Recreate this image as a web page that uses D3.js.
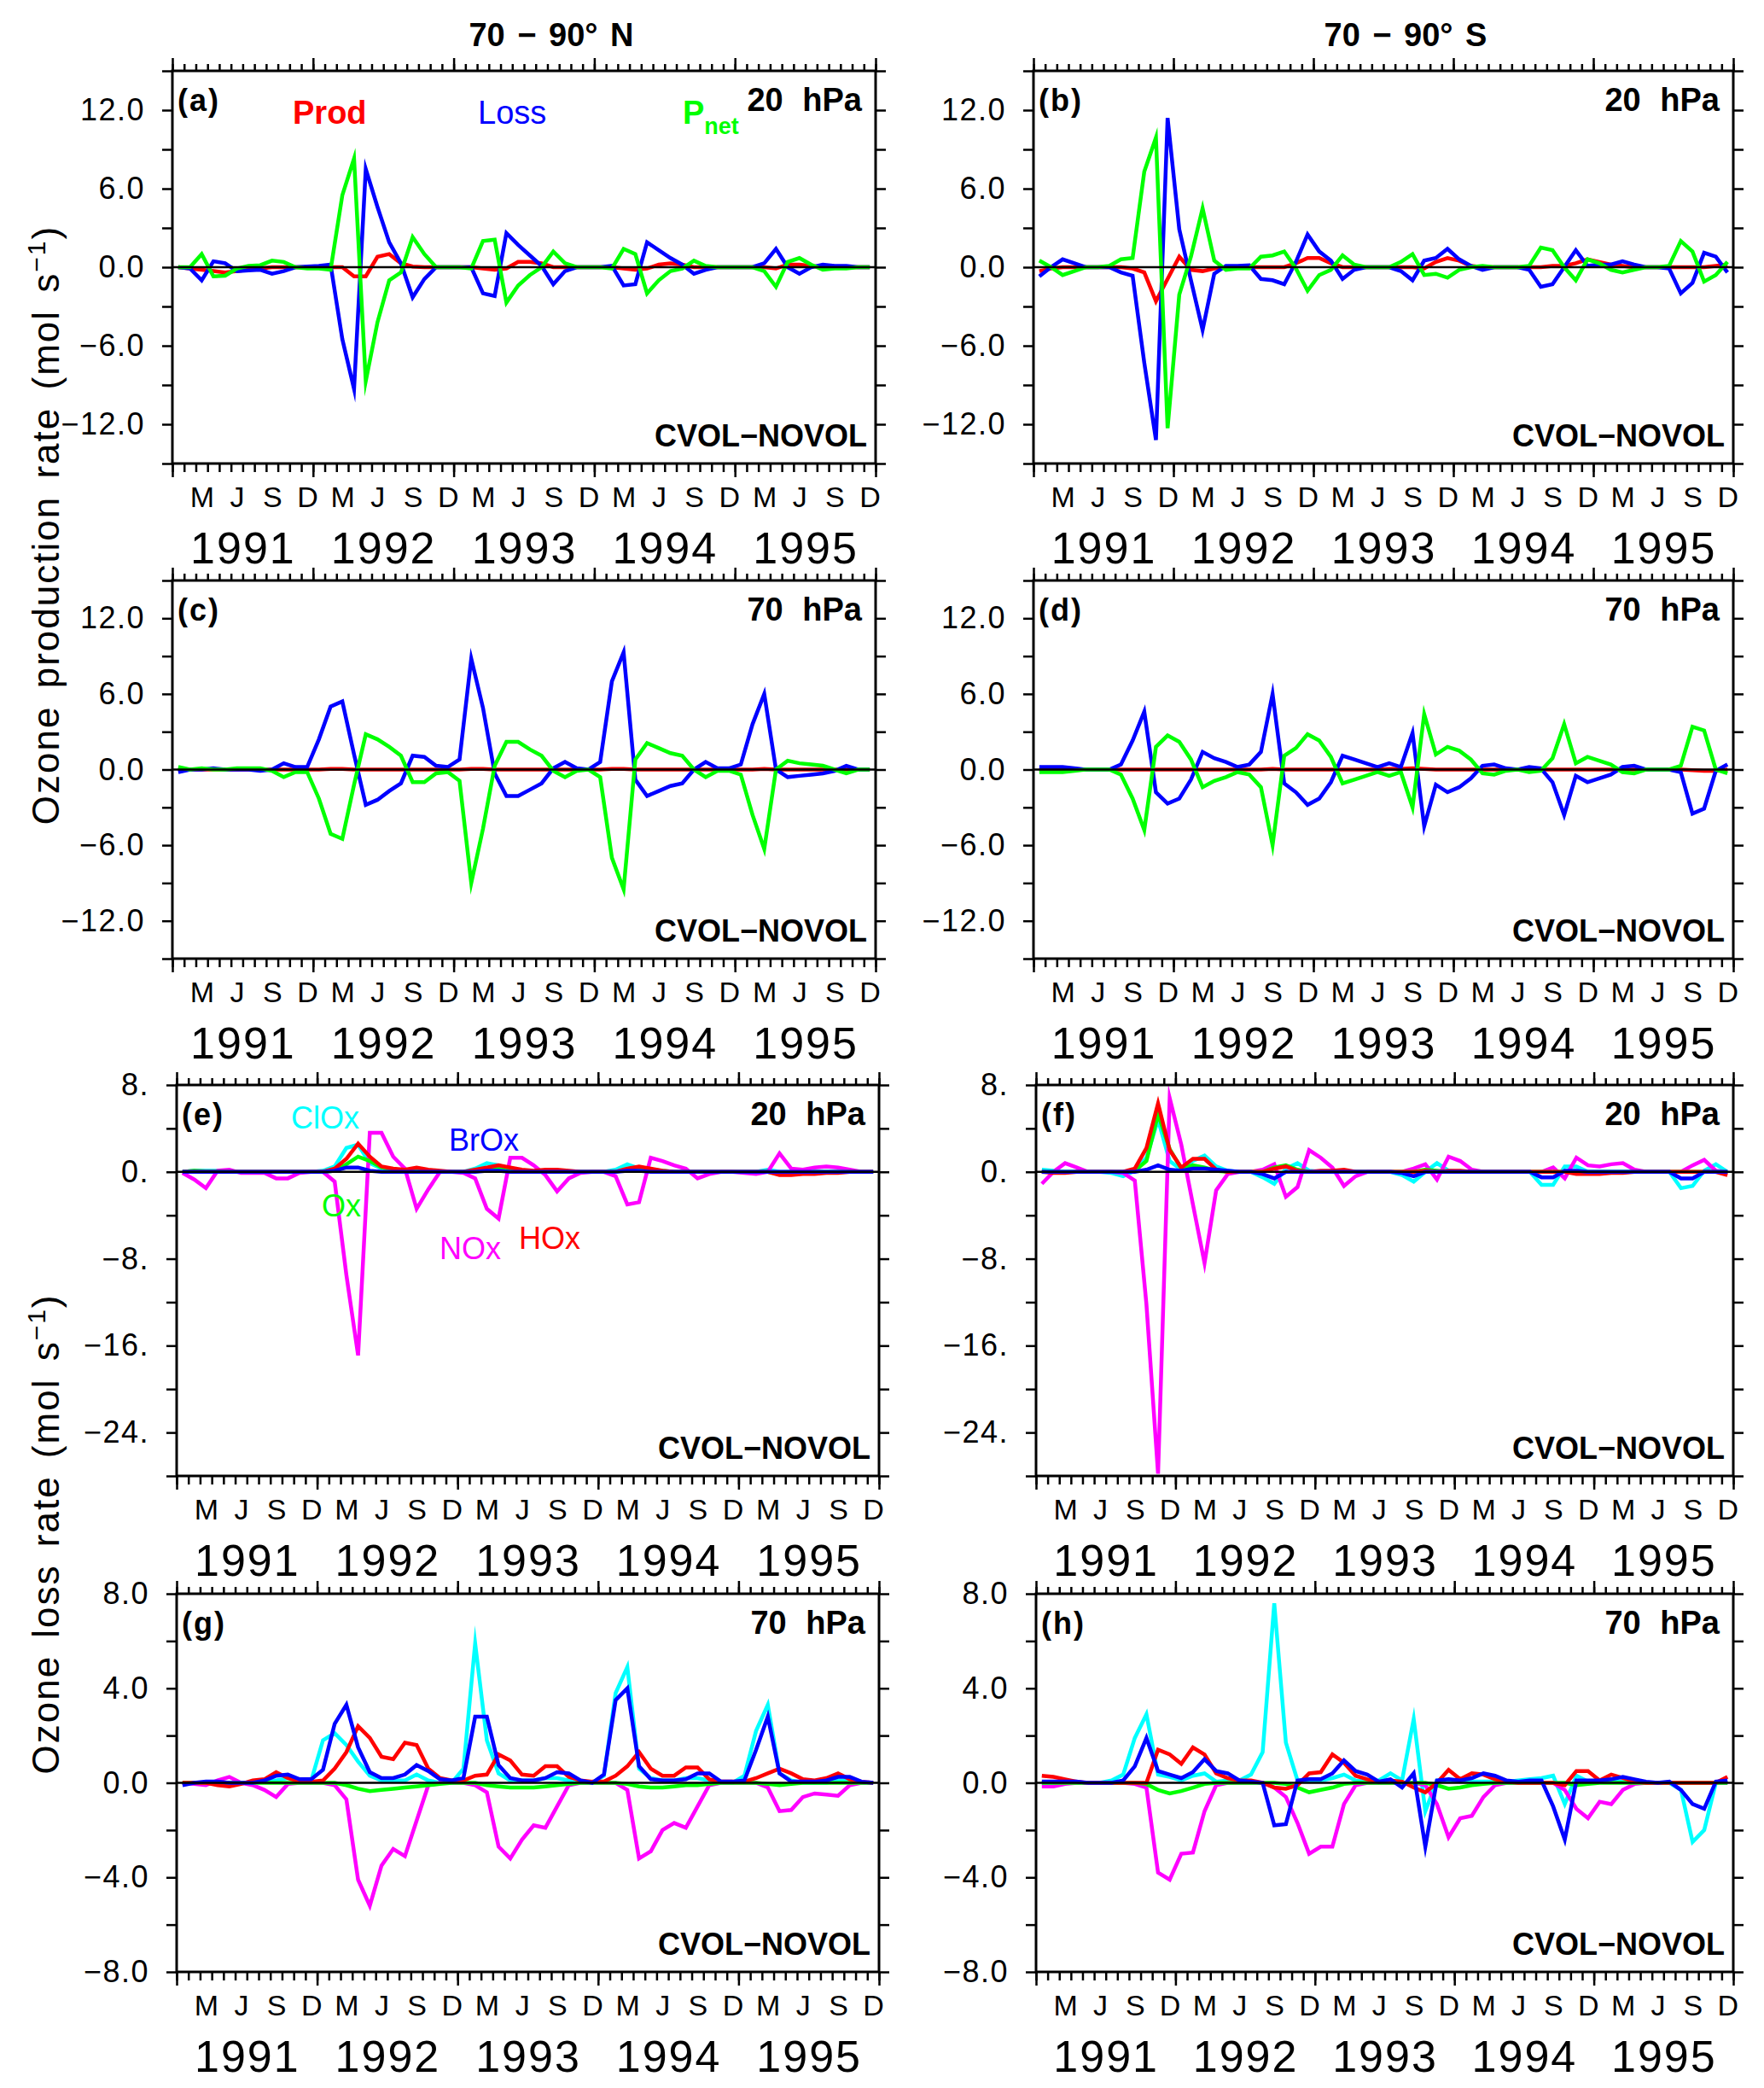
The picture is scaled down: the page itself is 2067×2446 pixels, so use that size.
<!DOCTYPE html>
<html lang="en">
<head>
<meta charset="UTF-8">
<title>ozone production and loss rates</title>
<script src="https://d3js.org/d3.v7.min.js"></script>
<style>
  body { margin: 0; background: #fff; }
  svg { display: block; }
</style>
</head>
<body>
<svg id="fig" width="2067" height="2446"></svg>
<script>
// monthly values, Jan 1991 .. Dec 1995, CVOL minus NOVOL (mol s-1)
const years = ["1991", "1992", "1993", "1994", "1995"];
const monthLetters = ["M", "J", "S", "D"];
const monthSlots = [2, 5, 8, 11];

// (a) 70-90N, 20 hPa
const prodA = [0,-0.1,-0.2,-0.3,-0.4,-0.3,-0.2,-0.1,0,0,0,0,
  0,0,0,-0.7,-0.7,0.8,1.0,0.3,0.05,0,0,0,
  0,0,-0.1,-0.2,-0.1,0.4,0.4,0.3,0,0,0,0,
  0,0,-0.1,-0.2,-0.1,0.2,0.3,0.2,0,0,0,0,
  0,0,0,-0.1,0.2,0.2,0.1,0,0,0,0,0];
const lossA = [0,-0.1,-1.0,0.45,0.3,-0.3,-0.25,-0.2,-0.5,-0.3,0,0.05,
  0.1,0.2,-5.5,-9.3,7.5,4.6,1.9,0.3,-2.3,-0.9,0,0,
  0,0,-2.0,-2.2,2.6,1.7,0.9,0.1,-1.3,-0.3,0,0,
  0,0.1,-1.4,-1.3,1.9,1.3,0.7,0.2,-0.5,-0.2,0,0,
  0,0,0.3,1.4,0,-0.5,0,0.2,0.1,0.1,0,0];
const pnetA = [0,0,1.0,-0.7,-0.65,-0.1,0.1,0.15,0.5,0.4,0,-0.1,
  -0.1,-0.2,5.5,8.3,-8.7,-4.2,-1.0,-0.4,2.3,1.0,0,0,
  0,-0.1,2.0,2.1,-2.7,-1.4,-0.6,0,1.2,0.3,0,0,
  0,-0.1,1.4,1.0,-2.0,-1.0,-0.3,-0.1,0.5,0.1,0,0,
  0,0,-0.3,-1.5,0.4,0.7,0.2,-0.2,-0.1,-0.1,0,0];

// (b) 70-90S, 20 hPa
const prodB = [-0.3,-0.1,0,0,0,0,0,0,-0.1,-0.4,-2.6,-0.9,
  0.8,-0.2,-0.3,-0.1,0,0,0,0,0,0,0.3,0.7,
  0.7,0.3,0,0,0,0,0,0,0,-0.1,0.4,0.7,
  0.5,0.1,0,0,0,0,0,0,0.1,0.1,0.3,0.6,
  0.4,0.2,0.1,0,0,0,0,0,0,0,0.1,0.2];
const lossB = [-0.7,0,0.6,0.3,0,0,0,-0.4,-0.65,-7.3,-13.2,11.4,
  2.9,-1.0,-4.8,-0.5,0.1,0.1,0.15,-0.9,-1.0,-1.3,0.4,2.5,
  1.2,0.5,-0.9,-0.2,0,0,0,-0.3,-1.0,0.5,0.7,1.4,
  0.6,0.1,-0.2,0,0,0,-0.2,-1.5,-1.3,0,1.3,0.1,
  0.2,0.2,0.45,0.2,0,0,-0.1,-2.0,-1.2,1.1,0.8,-0.4];
const pnetB = [0.5,0,-0.6,-0.3,0,0,0.1,0.6,0.7,7.3,9.9,-12.3,
  -2.1,0.8,4.5,0.5,-0.2,-0.1,-0.1,0.8,0.9,1.2,-0.1,-1.8,
  -0.6,-0.2,0.9,0.2,0,0,0,0.4,1.0,-0.6,-0.5,-0.8,
  -0.2,0,0.1,0,0,0,0.1,1.5,1.3,0,-1.0,0.6,
  0.3,-0.2,-0.4,-0.2,0,0,0.1,2.0,1.2,-1.1,-0.6,0.4];

// (c) 70-90N, 70 hPa
const prodC = [0,0,0,0,0,0,0,0,0,0,0,0,
  0,0.05,0.05,0,0,0,0,0,0,0,0,0,
  0,0.05,0.05,0,0,0,0,0,0,0,0,0,
  0,0.05,0.05,0,0,0,0,0,0,0,0,0,
  0,0,0.05,0,0,0,0,0,0,0,0,0];
const lossC = [-0.2,0,0,0.1,0,0,0,-0.1,0,0.5,0.2,0.2,
  2.4,5.0,5.4,1.2,-2.8,-2.4,-1.7,-1.1,1.1,1.0,0.3,0.2,
  0.8,8.8,4.9,-0.3,-2.1,-2.1,-1.6,-1.1,0.1,0.6,0.1,0,
  0.6,7.0,9.3,-0.8,-2.1,-1.7,-1.3,-1.1,0,0.6,0.1,0.1,
  0.4,3.6,6.0,0,-0.6,-0.5,-0.4,-0.3,-0.1,0.3,0,0];
const pnetC = [0.2,0,0.1,0,0,0.1,0.1,0.1,-0.1,-0.6,-0.2,-0.2,
  -2.3,-5.1,-5.5,-1.2,2.8,2.4,1.8,1.1,-1.0,-1.0,-0.3,-0.2,
  -0.9,-9.0,-4.7,0.3,2.2,2.2,1.6,1.1,-0.1,-0.6,-0.1,0,
  -0.6,-7.0,-9.5,0.8,2.1,1.7,1.3,1.1,0,-0.6,-0.1,-0.1,
  -0.4,-3.6,-6.3,0,0.7,0.5,0.4,0.3,0,-0.3,0,0];

// (d) 70-90S, 70 hPa
const prodD = [0,0,0,0,0,0,0,0,0,0,0,0,
  0,0,0,0,0,0,0,0,0.05,0,0,0,
  0,0,0,0,0,0,0.05,0.05,0.1,0.05,0,0,
  0,0,0,0,0,0,0,0,0,0,0,0,
  0,0,0,0,0,0,0,0,-0.05,-0.1,-0.1,0];
const lossD = [0.2,0.2,0.2,0.1,0,0,0,0.4,2.3,4.6,-1.8,-2.7,
  -2.3,-0.8,1.4,0.9,0.6,0.2,0.4,1.4,6.0,-1.1,-1.8,-2.8,
  -2.3,-1.0,1.1,0.8,0.5,0.2,0.5,0.2,2.9,-4.5,-1.2,-1.8,
  -1.4,-0.7,0.3,0.4,0.1,0,0.2,0.1,-1.0,-3.6,-0.5,-1.0,
  -0.7,-0.4,0.2,0.3,0,0,0,-0.2,-3.5,-3.1,-0.1,0.4];
const pnetD = [-0.2,-0.2,-0.2,-0.1,0,0,0,-0.4,-2.3,-4.8,1.8,2.7,
  2.2,0.8,-1.4,-0.9,-0.6,-0.2,-0.4,-1.4,-6.0,1.1,1.7,2.8,
  2.3,1.0,-1.1,-0.8,-0.5,-0.2,-0.5,-0.2,-3.0,4.4,1.2,1.8,
  1.5,0.8,-0.3,-0.4,-0.1,0,-0.2,-0.1,0.9,3.6,0.5,1.0,
  0.7,0.4,-0.2,-0.3,0,0,0,0.3,3.4,3.1,0,-0.3];

// (e) 70-90N, 20 hPa, loss by family
const clxE = [0,0.1,0.1,0.1,0,0,0,0,0,0,0,0,
  0.1,0.5,2.2,2.5,0.8,0.3,0.2,0.1,0.2,0.1,0,0,
  0,0.3,0.8,0.6,0.3,0.1,0,0,0,0,0,0,
  0,0.2,0.7,0.3,0.1,0,0,0,0,0,0,0,
  0,0,0.2,0,0,0,0,0,0,0,0,0];
const brxE = [0,0,0,0,0,0,0,0,0,0,0,0,
  0,0.1,0.4,0.4,0.1,0,0,0,0,0,0,0,
  0,0,0.1,0.1,0,0,0,0,0,0,0,0,
  0,0,0.1,0.1,0,0,0,0,0,0,0,0,
  0,0,0,0,0,0,0,0,0,0,0,0];
const oxE = [0,0.1,0.05,0.05,0,0,0,0,0,0,0,0,
  0,0.1,0.7,1.4,1.0,0.4,0.2,0.1,0.1,0,0,0,
  0,0.1,0.3,0.4,0.3,0.1,0,0,0,0,0,0,
  0,0,0.2,0.3,0.2,0.1,0,0,0,0,0,0,
  0,0,0,-0.2,-0.2,-0.1,0,0,0,0,0,0];
const noxE = [-0.1,-0.7,-1.5,0.1,0.2,-0.1,-0.1,-0.1,-0.6,-0.6,-0.1,0,
  0,-0.9,-9.5,-16.9,3.6,3.6,1.4,0.3,-3.4,-1.6,0,0,
  -0.1,-0.6,-3.4,-4.3,1.3,1.3,0.6,-0.3,-1.8,-0.6,-0.1,0,
  0,-0.4,-3.0,-2.8,1.3,1.0,0.6,0.3,-0.6,-0.2,0,0,
  -0.1,-0.2,0,1.7,0.3,0.2,0.4,0.5,0.4,0.2,0,0];
const hoxE = [0,0,0,0,0,0,0,0,0,0,0,0,
  0,0.3,1.2,2.6,1.4,0.5,0.3,0.2,0.4,0.2,0.1,0,
  0,0.2,0.4,0.6,0.4,0.2,0.1,0.2,0.2,0.1,0,0,
  0,0,0.3,0.5,0.3,0.1,0,0,0,0,0,0,
  0,0,0,-0.3,-0.3,-0.2,-0.2,-0.1,-0.1,0,0,0];

// (f) 70-90S, 20 hPa, loss by family
const clxF = [0.2,0.1,0,0,0,0,-0.1,-0.4,0.1,1.3,4.8,1.0,
  0.2,1.0,1.5,0.5,0.1,0,0,-0.5,-1.1,0.3,0.8,0.1,
  0,0,0,0,0,0,0,-0.3,-0.9,0,0.8,0.1,
  0,0,0,0,0,0,0,-1.2,-1.2,0.5,0.5,0,
  0,0,0,0,0,0,0,-1.5,-1.3,0.1,0.7,0];
const brxF = [0,0,0,0,0,0,0,0,0,0.2,0.6,0.2,
  0.1,0.3,0.3,0.2,0.1,0,0,-0.2,-0.6,0,0,0,
  0,0,0,0,0,0,0,-0.1,-0.4,0,0,0,
  0,0,0,0,0,0,0,-0.5,-0.5,0.1,0.1,0,
  0,0,0,0,0,0,0,-0.6,-0.6,0,0,0];
const oxF = [0,0,0,0,0,0,0,0,0.1,1.0,5.3,2.1,
  0.3,0.6,0.4,0.1,0,0,0,0,0.4,0.6,0.2,0,
  0,0,0,0,0,0,0,0,0,0.2,0.1,0,
  0,0,0,0,0,0,0,0,0,0,0,0,
  0,0,0,0,0,0,0,0,0,0,0,0];
const noxF = [-1.1,0,0.8,0.4,0,0,0,-0.1,-0.8,-12.2,-27.8,6.8,
  2.5,-3.0,-8.4,-1.7,-0.2,0,0,0.2,0.7,-2.3,-1.4,2.0,
  1.3,0.4,-1.3,-0.4,0,0,0,0,0.3,0.7,-0.7,1.4,
  1.0,0.2,0,0,0,0,0,0,0.4,-0.6,1.3,0.6,
  0.5,0.7,0.8,0.2,0,0,0,0,0.6,1.1,0.1,0];
const hoxF = [0,-0.1,-0.1,0,0,0,0,0,0.3,2.2,6.3,2.0,
  0.4,1.2,1.2,0.2,0,0,0,0,0.3,0.5,0.1,0,
  0.1,0.1,0.2,0,0,0,0,0,0,0.1,0,0.1,
  0.1,0,0,0,0,0,0,0,0,0,-0.2,-0.2,
  -0.2,-0.1,-0.1,0,0,0,0,0,0,0,0,-0.3];

// (g) 70-90N, 70 hPa, loss by family
const clxG = [0,0,0,0,0,0,0,0.1,0.1,0.2,0.1,0.1,
  1.8,2.1,1.6,0.9,0.3,0.1,0.1,0.1,0.35,0.1,0,0,
  0.6,5.9,1.8,0.4,0.1,0.1,0.1,0.2,0.2,0.1,0,0,
  0.3,3.8,4.9,0.6,0.2,0.1,0.1,0.2,0.2,0.1,0,0,
  0.3,2.2,3.3,0.4,0.1,0,0,0,0.1,0.1,0,0];
const brxG = [-0.1,0,0.05,0.05,0,0,0,0.1,0.3,0.35,0.15,0.15,
  0.55,2.5,3.3,1.5,0.45,0.2,0.2,0.35,0.75,0.5,0.15,0.1,
  0.2,2.8,2.8,0.75,0.2,0.1,0.1,0.2,0.45,0.4,0.1,0,
  0.35,3.5,4.0,0.7,0.15,0.1,0.1,0.15,0.4,0.4,0.05,0.05,
  0.1,1.4,2.8,0.4,0.05,0.05,0.05,0.1,0.25,0.25,0.05,0];
const oxG = [0,0,0,0,0,0,0,0,0,0,0,0,
  0,0,-0.1,-0.25,-0.35,-0.3,-0.25,-0.2,-0.15,-0.1,-0.05,0,
  0,0,-0.1,-0.15,-0.2,-0.2,-0.2,-0.15,-0.1,-0.05,0,0,
  0,0,-0.05,-0.15,-0.2,-0.2,-0.15,-0.1,-0.1,-0.05,0,0,
  0,0,-0.05,-0.1,-0.05,0,0,0,0,0,0,0];
const noxG = [0,-0.05,-0.1,0.1,0.25,0,-0.1,-0.3,-0.6,-0.05,0,0,
  0,-0.1,-0.7,-4.1,-5.2,-3.5,-2.8,-3.1,-1.6,-0.1,0,0,
  0,-0.1,-0.4,-2.7,-3.2,-2.4,-1.8,-1.9,-1.0,-0.1,0,0,
  0,0,-0.3,-3.2,-2.9,-2.0,-1.7,-1.9,-1.0,-0.1,0,0,
  0,0,-0.2,-1.2,-1.15,-0.6,-0.45,-0.5,-0.55,-0.1,0,0];
const hoxG = [0,0,0,-0.1,-0.15,-0.05,0.1,0.15,0.45,0.2,0.05,0.05,
  0.1,0.6,1.3,2.4,1.9,1.1,1.0,1.7,1.6,0.6,0.2,0.1,
  0.1,0.3,0.35,1.2,0.95,0.35,0.3,0.7,0.7,0.25,0.1,0.05,
  0.05,0.3,0.7,1.3,0.6,0.3,0.3,0.65,0.65,0.15,0.05,0.05,
  0.05,0.2,0.4,0.6,0.4,0.15,0.1,0.2,0.4,0.15,0.05,0];

// (h) 70-90S, 70 hPa, loss by family
const clxH = [0,0,0,0,0,0,0.1,0.35,1.9,2.9,0.35,0.25,
  0.1,0.3,0.4,0.05,0.1,0.1,0.35,1.3,7.6,1.7,0.1,0.1,
  0.1,0.2,0.35,0.1,0.05,0.1,0.4,0.1,2.7,-1.2,0.1,0.1,
  0.05,0.05,0.05,0.05,0.05,0.1,0.15,0.2,0.3,-0.9,0.3,0.05,
  0.05,0.05,0.05,0,0,0,0,-0.3,-2.5,-2.0,0,0];
const brxH = [0.05,0.05,0.05,0.05,0,0,0,0.1,0.7,1.9,0.5,0.35,
  0.2,0.45,1.0,0.5,0.4,0.1,0.05,0,-1.8,-1.75,0.1,0.15,
  0.15,0.4,0.95,0.5,0.35,0.05,0.15,-0.2,0.4,-2.7,0.1,0.15,
  0.1,0.2,0.4,0.3,0.1,0.05,0.1,0.1,-1.0,-2.4,0.1,0.1,
  0.1,0.15,0.25,0.15,0.05,0,0.05,-0.3,-0.9,-1.1,0.05,0.1];
const oxH = [0,0,0,0,0,0,0,0,0,-0.05,-0.3,-0.45,
  -0.35,-0.2,-0.05,0,0,0,0,0,0,-0.05,-0.2,-0.4,
  -0.3,-0.2,-0.05,0,0,0,0,0,0,0,-0.1,-0.25,
  -0.2,-0.1,-0.05,0,0,0,0,0,0,0,-0.1,-0.05,
  0,0,0,0,0,0,0,0,0,0,0,0];
const noxH = [-0.15,-0.15,-0.05,0,0,0,0,0,-0.05,-0.2,-3.8,-4.1,
  -3.0,-2.95,-1.2,-0.1,0,0,0,0,-0.2,-0.6,-1.7,-3.0,
  -2.7,-2.7,-0.9,-0.1,0,0,0,0,0,-0.1,-0.9,-2.3,
  -1.5,-1.4,-0.6,-0.1,0,0,0,0,0,-0.3,-1.1,-1.5,
  -0.8,-0.9,-0.3,-0.05,0,0,0,0,0,0,0,0];
const hoxH = [0.3,0.25,0.15,0.05,0,0,0,0,0,0,1.4,1.2,
  0.8,1.5,1.2,0.4,0.2,0.1,0.1,0,-0.2,-0.25,-0.1,0.4,
  0.45,1.2,0.85,0.3,0.15,0.05,0.1,0.05,-0.2,-0.4,0,0.55,
  0.15,0.4,0.35,0.15,0.05,0,0,0,0,-0.1,0.5,0.5,
  0.1,0.35,0.2,0.05,0,0,0,0,0,0,0,0.25];

const RED = "#ff0000", BLUE = "#0000ff", GREEN = "#00ff00", CYAN = "#00ffff", MAGENTA = "#ff00ff";
const FONT = "'Liberation Sans', Arial, Helvetica, sans-serif";

const fmt1 = d => (d < 0 ? "\u2212" : "") + Math.abs(d).toFixed(1);
const fmt0 = d => (d < 0 ? "\u2212" : "") + Math.abs(d) + ".";

// frame positions of the 4 rows x 2 columns
const colsTop = [[202, 1026], [1211, 2031]];
const colsBot = [[207, 1030], [1214, 2031]];
const rowsY = [[83, 543], [680, 1123], [1271, 1729], [1867, 2310]];

const family = (clx, brx, ox, nox, hox) => [[clx, CYAN], [nox, MAGENTA], [ox, GREEN], [hox, RED], [brx, BLUE]];

const panels = [
  {tag: "(a)", lev: "20 hPa", r: 0, c: 0, dom: [-15, 15], step: 3, lab: 6, fmt: fmt1, series: [[prodA, RED], [lossA, BLUE], [pnetA, GREEN]]},
  {tag: "(b)", lev: "20 hPa", r: 0, c: 1, dom: [-15, 15], step: 3, lab: 6, fmt: fmt1, series: [[prodB, RED], [lossB, BLUE], [pnetB, GREEN]]},
  {tag: "(c)", lev: "70 hPa", r: 1, c: 0, dom: [-15, 15], step: 3, lab: 6, fmt: fmt1, series: [[prodC, RED], [lossC, BLUE], [pnetC, GREEN]]},
  {tag: "(d)", lev: "70 hPa", r: 1, c: 1, dom: [-15, 15], step: 3, lab: 6, fmt: fmt1, series: [[prodD, RED], [lossD, BLUE], [pnetD, GREEN]]},
  {tag: "(e)", lev: "20 hPa", r: 2, c: 0, dom: [-28, 8], step: 4, lab: 8, fmt: fmt0, series: family(clxE, brxE, oxE, noxE, hoxE)},
  {tag: "(f)", lev: "20 hPa", r: 2, c: 1, dom: [-28, 8], step: 4, lab: 8, fmt: fmt0, series: family(clxF, brxF, oxF, noxF, hoxF)},
  {tag: "(g)", lev: "70 hPa", r: 3, c: 0, dom: [-8, 8], step: 2, lab: 4, fmt: fmt1, series: family(clxG, brxG, oxG, noxG, hoxG)},
  {tag: "(h)", lev: "70 hPa", r: 3, c: 1, dom: [-8, 8], step: 2, lab: 4, fmt: fmt1, series: family(clxH, brxH, oxH, noxH, hoxH)}
];

const svg = d3.select("#fig").attr("font-family", FONT);
svg.append("rect").attr("width", 2067).attr("height", 2446).attr("fill", "#fff");

function styleAxis(sel, fs) {
  sel.select(".domain").remove();
  sel.attr("font-family", FONT).attr("font-size", fs);
  sel.selectAll("line").attr("stroke", "#000").attr("stroke-width", 2.5);
  sel.selectAll("text").attr("fill", "#000");
}

panels.forEach((p, k) => {
  const [x0, x1] = (p.r < 2 ? colsTop : colsBot)[p.c];
  const [y0, y1] = rowsY[p.r];
  const x = d3.scaleLinear().domain([0, 60]).range([x0, x1]);
  const y = d3.scaleLinear().domain(p.dom).range([y1, y0]);
  const g = svg.append("g");

  const cid = "clip" + k;
  g.append("clipPath").attr("id", cid).append("rect")
    .attr("x", x0).attr("y", y0).attr("width", x1 - x0).attr("height", y1 - y0);

  const yt = d3.range(p.dom[0], p.dom[1] + 1e-6, p.step);
  const monthTicks = d3.range(0, 61);
  const yearTicks = d3.range(0, 61, 12);

  // y axes
  g.append("g").attr("transform", `translate(${x0},0)`)
    .call(d3.axisLeft(y).tickValues(yt).tickSize(12).tickPadding(20)
      .tickFormat(d => Math.abs(d % p.lab) < 1e-6 ? p.fmt(d) : ""))
    .call(s => styleAxis(s, 36))
    .selectAll("text").attr("letter-spacing", 1.5);
  g.append("g").attr("transform", `translate(${x1},0)`)
    .call(d3.axisRight(y).tickValues(yt).tickSize(12).tickFormat(""))
    .call(s => styleAxis(s, 10));

  // x axes: monthly minor and yearly major ticks, bottom and top
  g.append("g").attr("transform", `translate(0,${y1})`)
    .call(d3.axisBottom(x).tickValues(monthTicks).tickSize(10).tickFormat(""))
    .call(s => styleAxis(s, 10));
  g.append("g").attr("transform", `translate(0,${y1})`)
    .call(d3.axisBottom(x).tickValues(yearTicks).tickSize(16).tickFormat(""))
    .call(s => styleAxis(s, 10));
  g.append("g").attr("transform", `translate(0,${y0})`)
    .call(d3.axisTop(x).tickValues(monthTicks).tickSize(8).tickFormat(""))
    .call(s => styleAxis(s, 10));
  g.append("g").attr("transform", `translate(0,${y0})`)
    .call(d3.axisTop(x).tickValues(yearTicks).tickSize(15).tickFormat(""))
    .call(s => styleAxis(s, 10));

  // month letters and years
  const mt = years.flatMap((yr, i) => monthSlots.map(m => 12 * i + m + 0.5));
  g.append("g").attr("transform", `translate(0,${y1})`)
    .call(d3.axisBottom(x).tickValues(mt).tickSize(0).tickPadding(27)
      .tickFormat((d, i) => monthLetters[i % 4]))
    .call(s => styleAxis(s, 34));
  g.append("g").attr("transform", `translate(0,${y1})`)
    .call(d3.axisBottom(x).tickValues(years.map((yr, i) => 12 * i + 6)).tickSize(0).tickPadding(80)
      .tickFormat((d, i) => years[i]))
    .call(s => styleAxis(s, 52))
    .selectAll("text").attr("letter-spacing", 2);

  // series
  const line = d3.line().x((d, i) => x(i + 0.5)).y(d => y(d));
  const lg = g.append("g").attr("clip-path", `url(#${cid})`);
  p.series.forEach(([arr, col]) => {
    lg.append("path").attr("d", line(arr))
      .attr("fill", "none").attr("stroke", col).attr("stroke-width", 4.5)
      .attr("stroke-linejoin", "miter").attr("stroke-miterlimit", 10);
  });
  lg.append("line").attr("x1", x0).attr("x2", x1).attr("y1", y(0)).attr("y2", y(0))
    .attr("stroke", "#000").attr("stroke-width", 2.5);

  g.append("rect").attr("x", x0).attr("y", y0).attr("width", x1 - x0).attr("height", y1 - y0)
    .attr("fill", "none").attr("stroke", "#000").attr("stroke-width", 3);

  // panel texts
  g.append("text").attr("x", x0 + 6).attr("y", y0 + 47)
    .attr("font-size", 36).attr("font-weight", "bold").attr("letter-spacing", 2).text(p.tag);
  g.append("text").attr("x", x1 - 16).attr("y", y0 + 47).attr("text-anchor", "end")
    .attr("font-size", 38).attr("font-weight", "bold").attr("word-spacing", 12).text(p.lev);
  g.append("text").attr("x", x1 - 10).attr("y", y1 - 20).attr("text-anchor", "end")
    .attr("font-size", 36).attr("font-weight", "bold").text("CVOL\u2212NOVOL");
});

// column titles
svg.append("text").attr("x", 646).attr("y", 54).attr("text-anchor", "middle")
  .attr("font-size", 38).attr("font-weight", "bold").attr("word-spacing", 4).text("70 \u2212 90\u00b0 N");
svg.append("text").attr("x", 1647).attr("y", 54).attr("text-anchor", "middle")
  .attr("font-size", 38).attr("font-weight", "bold").attr("word-spacing", 4).text("70 \u2212 90\u00b0 S");

// legend, panel (a)
svg.append("text").attr("x", 343).attr("y", 145).attr("font-size", 38).attr("font-weight", "bold")
  .attr("fill", RED).text("Prod");
svg.append("text").attr("x", 560).attr("y", 145).attr("font-size", 38)
  .attr("fill", BLUE).text("Loss");
const pn = svg.append("text").attr("x", 800).attr("y", 145).attr("font-size", 38).attr("font-weight", "bold")
  .attr("fill", GREEN).text("P");
pn.append("tspan").attr("dy", 12).attr("font-size", 27).text("net");

// legend, panel (e)
[["ClOx", CYAN, 341, 1322], ["BrOx", BLUE, 526, 1348], ["Ox", GREEN, 377, 1425],
 ["NOx", MAGENTA, 515, 1475], ["HOx", RED, 608, 1463]].forEach(([t, col, lx, ly]) => {
  svg.append("text").attr("x", lx).attr("y", ly).attr("font-size", 36).attr("fill", col).text(t);
});

// y axis titles
function yTitle(txt, cy) {
  const t = svg.append("text").attr("transform", `translate(69,${cy}) rotate(-90)`)
    .attr("text-anchor", "middle").attr("font-size", 44).attr("letter-spacing", 2).attr("word-spacing", 6)
    .text(txt + " (mol s");
  t.append("tspan").attr("dy", -16).attr("font-size", 30).text("\u22121");
  t.append("tspan").attr("dy", 16).text(")");
}
yTitle("Ozone production rate", 615);
yTitle("Ozone loss rate", 1797);
</script>
</body>
</html>
